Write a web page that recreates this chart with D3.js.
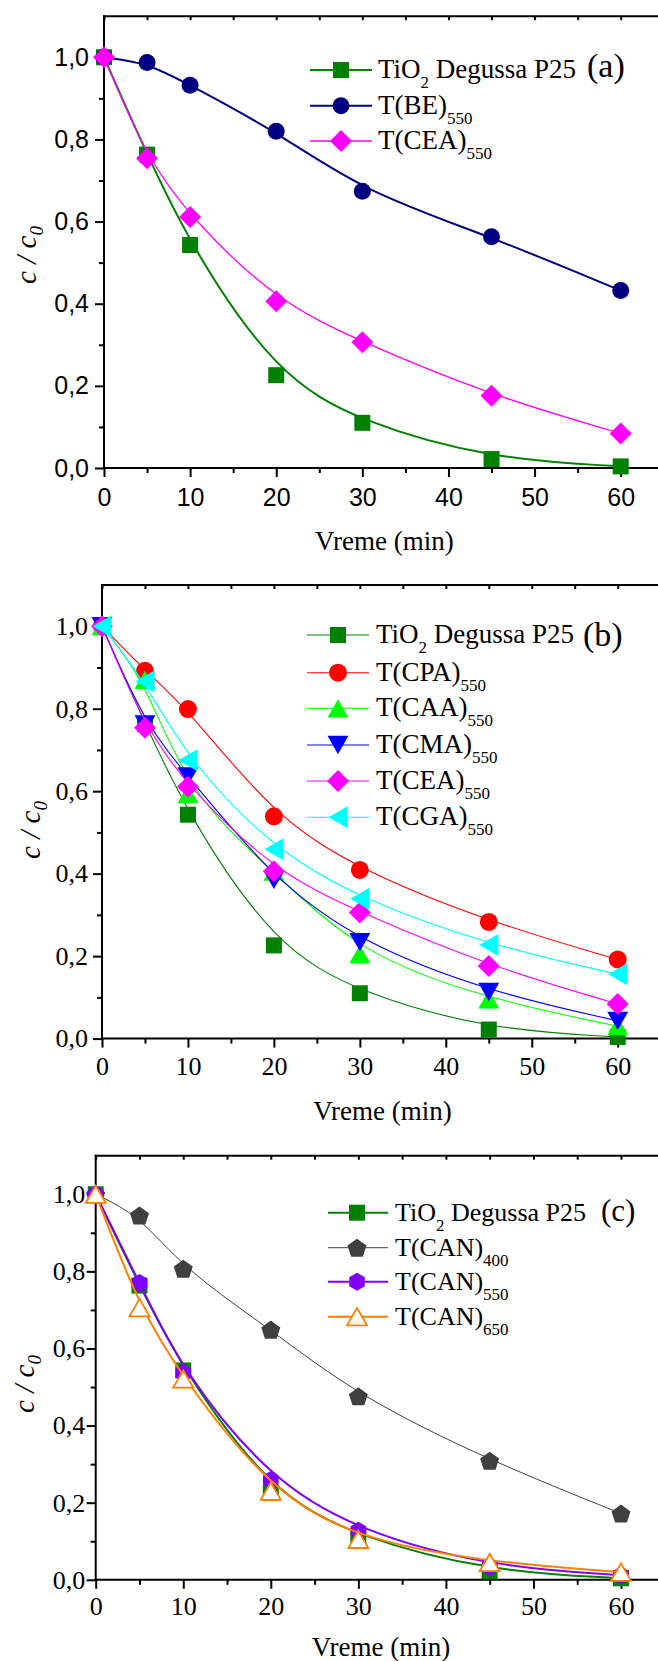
<!DOCTYPE html>
<html><head><meta charset="utf-8">
<script src="https://cdn.jsdelivr.net/npm/d3@7"></script>
<style>html,body{margin:0;padding:0;background:#fff;} svg{display:block;}
.serif{font-family:"Liberation Serif","Times New Roman",Tinos,"DejaVu Serif",serif;}
.sans{font-family:"Liberation Sans",Arial,Arimo,"DejaVu Sans",sans-serif;}
</style>
</head><body>
<script>
// ---------- data ----------
const times = [0, 5, 10, 20, 30, 45, 60];
const tio2    = [1.0, 0.763, 0.543, 0.226, 0.110, 0.022, 0.004];
const tBE     = [1.0, 0.987, 0.932, 0.820, 0.674, 0.563, 0.432];
const tCEA    = [1.0, 0.754, 0.611, 0.406, 0.306, 0.176, 0.084];
const tCPA    = [1.0, 0.892, 0.799, 0.539, 0.409, 0.283, 0.192];
const tCAA    = [1.0, 0.870, 0.593, 0.405, 0.205, 0.095, 0.030];
const tCMA    = [1.0, 0.762, 0.636, 0.385, 0.234, 0.113, 0.043];
const tCGA    = [1.0, 0.866, 0.675, 0.459, 0.339, 0.227, 0.156];
const tCAN400 = [1.0, 0.945, 0.807, 0.649, 0.476, 0.309, 0.172];
const tCAN550 = [1.0, 0.770, 0.537, 0.259, 0.127, 0.034, 0.012];
const tCAN650 = [1.0, 0.706, 0.521, 0.230, 0.105, 0.045, 0.020];

const xTicks = [0, 10, 20, 30, 40, 50, 60];
const xTickLabels = ["0", "10", "20", "30", "40", "50", "60"];
const xMinorTicks = [5, 15, 25, 35, 45, 55];
const yTicks = [0, 0.2, 0.4, 0.6, 0.8, 1.0];
const yTickLabels = ["0,0", "0,2", "0,4", "0,6", "0,8", "1,0"];
const yMinorTicks = [0.1, 0.3, 0.5, 0.7, 0.9];
const xLabel = "Vreme (min)";

// ---------- setup ----------
const W = 658, H = 1661;
const svg = d3.select("body").append("svg").attr("width", W).attr("height", H)
  .style("background", "#fff");

function symPath(type, s) {
  const p = d3.path();
  if (type === "square") { p.rect(-s/2, -s/2, s, s); }
  else if (type === "circle") { p.arc(0, 0, s/2, 0, 2*Math.PI); }
  else if (type === "diamond") { p.moveTo(0,-s/2); p.lineTo(s/2,0); p.lineTo(0,s/2); p.lineTo(-s/2,0); p.closePath(); }
  else if (type === "triUp") { const h = s*0.87; p.moveTo(0,-h/2); p.lineTo(s/2,h/2); p.lineTo(-s/2,h/2); p.closePath(); }
  else if (type === "triDown") { const h = s*0.87; p.moveTo(0,h/2); p.lineTo(s/2,-h/2); p.lineTo(-s/2,-h/2); p.closePath(); }
  else if (type === "triLeft") { const h = s*0.87; p.moveTo(-h/2,0); p.lineTo(h/2,-s/2); p.lineTo(h/2,s/2); p.closePath(); }
  else if (type === "pentagon" || type === "hexagon") {
    const n = type === "pentagon" ? 5 : 6, r = s/2;
    for (let k = 0; k < n; k++) {
      const a = -Math.PI/2 + k*2*Math.PI/n;
      const px = r*Math.cos(a), py = r*Math.sin(a) + (type === "pentagon" ? r*0.1 : 0);
      if (k === 0) p.moveTo(px, py); else p.lineTo(px, py);
    }
    p.closePath();
  }
  return p.toString();
}

const panels = [
  { tag: "(a)", left: 104, x60: 620.7, top: 16.2, y0: 468,
    tickFont: "sans", tickSize: 25, xPad: 11, yPad: 6,
    vreme: [384.4, 550], ylab: [27, 255],
    legend: { lx1: 310, lx2: 372, sx: 341, tx: 378, rows: [70, 105.7, 141], dy: 8, subDy: 10, fs: 27 },
    tagPos: [587, 77, 34],
    series: [
      { name: "TiO", sub: "2", after: " Degussa P25", v: tio2, color: "#008000", lw: 2, sym: "square", size: 16 },
      { name: "T(BE)", sub: "550", v: tBE, color: "#000080", lw: 2, sym: "circle", size: 17 },
      { name: "T(CEA)", sub: "550", v: tCEA, color: "#FF00FF", lw: 1.3, sym: "diamond", size: 22 }
    ] },
  { tag: "(b)", left: 102, x60: 617.7, top: 585, y0: 1038.6,
    tickFont: "serif", tickSize: 26, xPad: 9, yPad: 5,
    vreme: [382.5, 1120], ylab: [31, 830],
    legend: { lx1: 307, lx2: 369, sx: 338, tx: 376, rows: [635, 672.7, 708.3, 745, 781, 817.3], dy: 8, subDy: 10, fs: 27 },
    tagPos: [583, 646, 34],
    series: [
      { name: "TiO", sub: "2", after: " Degussa P25", v: tio2, color: "#008000", lw: 1.1, sym: "square", size: 16 },
      { name: "T(CPA)", sub: "550", v: tCPA, color: "#FF0000", lw: 1.1, sym: "circle", size: 18 },
      { name: "T(CAA)", sub: "550", v: tCAA, color: "#00FF00", lw: 1.1, sym: "triUp", size: 21 },
      { name: "T(CMA)", sub: "550", v: tCMA, color: "#0000FF", lw: 1.1, sym: "triDown", size: 21 },
      { name: "T(CEA)", sub: "550", v: tCEA, color: "#FF00FF", lw: 1.1, sym: "diamond", size: 22 },
      { name: "T(CGA)", sub: "550", v: tCGA, color: "#00FFFF", lw: 1.1, sym: "triLeft", size: 22 }
    ] },
  { tag: "(c)", left: 95.7, x60: 621, top: 1155.7, y0: 1579.8,
    tickFont: "serif", tickSize: 26, xPad: 8, yPad: 1.5,
    vreme: [381, 1656], ylab: [25, 1384],
    legend: { lx1: 328, lx2: 388, sx: 357, tx: 395, rows: [1212.7, 1247.7, 1281.7, 1316.7], dy: 8, subDy: 10, fs: 26 },
    tagPos: [601, 1221, 31],
    series: [
      { name: "TiO", sub: "2", after: " Degussa P25", v: tio2, color: "#008000", lw: 2, sym: "square", size: 16 },
      { name: "T(CAN)", sub: "400", v: tCAN400, color: "#404040", lw: 1, sym: "pentagon", size: 20 },
      { name: "T(CAN)", sub: "550", v: tCAN550, color: "#8000FF", lw: 2, sym: "hexagon", size: 18 },
      { name: "T(CAN)", sub: "650", v: tCAN650, color: "#FF8000", lw: 2, sym: "triUp", size: 20, open: true }
    ] }
];

function drawMarker(g, s, cx, cy) {
  g.append("path").attr("d", symPath(s.sym, s.size))
    .attr("transform", `translate(${cx},${cy})`)
    .attr("fill", s.open ? "#fff" : s.color)
    .attr("stroke", s.open ? s.color : "none")
    .attr("stroke-width", s.open ? 1.8 : 0);
}

panels.forEach(p => {
  const x = d3.scaleLinear().domain([0, 60]).range([p.left, p.x60]);
  const y = d3.scaleLinear().domain([0, 1.1]).range([p.y0, p.top]);
  const g = svg.append("g");

  // frame lines (extend to right edge)
  g.append("line").attr("x1", p.left - 1).attr("x2", W + 2).attr("y1", p.top).attr("y2", p.top)
    .attr("stroke", "#000").attr("stroke-width", 2);
  g.append("line").attr("x1", p.left - 1).attr("x2", W + 2).attr("y1", p.y0).attr("y2", p.y0)
    .attr("stroke", "#000").attr("stroke-width", 2);
  g.append("line").attr("x1", p.left).attr("x2", p.left).attr("y1", p.top - 1).attr("y2", p.y0 + 1)
    .attr("stroke", "#000").attr("stroke-width", 2);

  // axes
  const axB = g.append("g").attr("transform", `translate(0,${p.y0})`)
    .call(d3.axisBottom(x).tickValues(xTicks).tickSize(9).tickSizeOuter(0).tickPadding(p.xPad)
      .tickFormat((d, i) => xTickLabels[i]));
  const axBm = g.append("g").attr("transform", `translate(0,${p.y0})`)
    .call(d3.axisBottom(x).tickValues(xMinorTicks).tickSize(5).tickSizeOuter(0).tickFormat(""));
  const axT = g.append("g").attr("transform", `translate(0,${p.top})`)
    .call(d3.axisTop(x).tickValues(xTicks.concat(xMinorTicks)).tickSize(-4).tickSizeOuter(0).tickFormat(""));
  const axL = g.append("g").attr("transform", `translate(${p.left},0)`)
    .call(d3.axisLeft(y).tickValues(yTicks).tickSize(9).tickSizeOuter(0).tickPadding(p.yPad)
      .tickFormat((d, i) => yTickLabels[i]));
  const axLm = g.append("g").attr("transform", `translate(${p.left},0)`)
    .call(d3.axisLeft(y).tickValues(yMinorTicks).tickSize(5).tickSizeOuter(0).tickFormat(""));
  [axB, axBm, axT, axL, axLm].forEach(a => {
    a.attr("font-family", null).attr("font-size", null);
    a.select(".domain").remove();
    a.selectAll("line").attr("stroke", "#000").attr("stroke-width", 2);
    a.selectAll("text").attr("class", p.tickFont).style("font-size", p.tickSize + "px").attr("fill", "#000");
  });

  // x label
  g.append("text").attr("class", "serif").attr("x", p.vreme[0]).attr("y", p.vreme[1]).attr("text-anchor", "middle")
    .style("font-size", "27px").text(xLabel);

  // y label c / c0
  const yl = g.append("text").attr("class", "serif")
    .attr("transform", `translate(${p.ylab[0]},${p.ylab[1]}) rotate(-90)`)
    .attr("text-anchor", "middle").style("font-style", "italic")
    .style("font-size", "29px").attr("dy", "0.3em");
  yl.append("tspan").text("c / c");
  yl.append("tspan").style("font-size", "19px").attr("dy", 7).text("0");

  // series
  const line = d3.line().x((d, i) => x(times[i])).y(d => y(d)).curve(d3.curveBasis);
  p.series.forEach(s => {
    g.append("path").attr("d", line(s.v)).attr("fill", "none")
      .attr("stroke", s.color).attr("stroke-width", s.lw);
    s.v.forEach((v, i) => drawMarker(g, s, x(times[i]), y(v)));
  });

  // legend
  const L = p.legend;
  p.series.forEach((s, k) => {
    const ry = L.rows[k];
    g.append("line").attr("x1", L.lx1).attr("x2", L.lx2).attr("y1", ry).attr("y2", ry)
      .attr("stroke", s.color).attr("stroke-width", s.lw);
    drawMarker(g, s, L.sx, ry);
    const t = g.append("text").attr("class", "serif").attr("x", L.tx).attr("y", ry + L.dy)
      .style("font-size", L.fs + "px").attr("fill", "#000");
    t.append("tspan").text(s.name);
    t.append("tspan").style("font-size", "17px").attr("dy", L.subDy).text(s.sub);
    if (s.after) t.append("tspan").attr("dy", -L.subDy).style("font-size", L.fs + "px").text(s.after);
  });
  g.append("text").attr("class", "serif").attr("x", p.tagPos[0]).attr("y", p.tagPos[1])
    .style("font-size", p.tagPos[2] + "px").text(p.tag);
});
</script>
</body></html>
